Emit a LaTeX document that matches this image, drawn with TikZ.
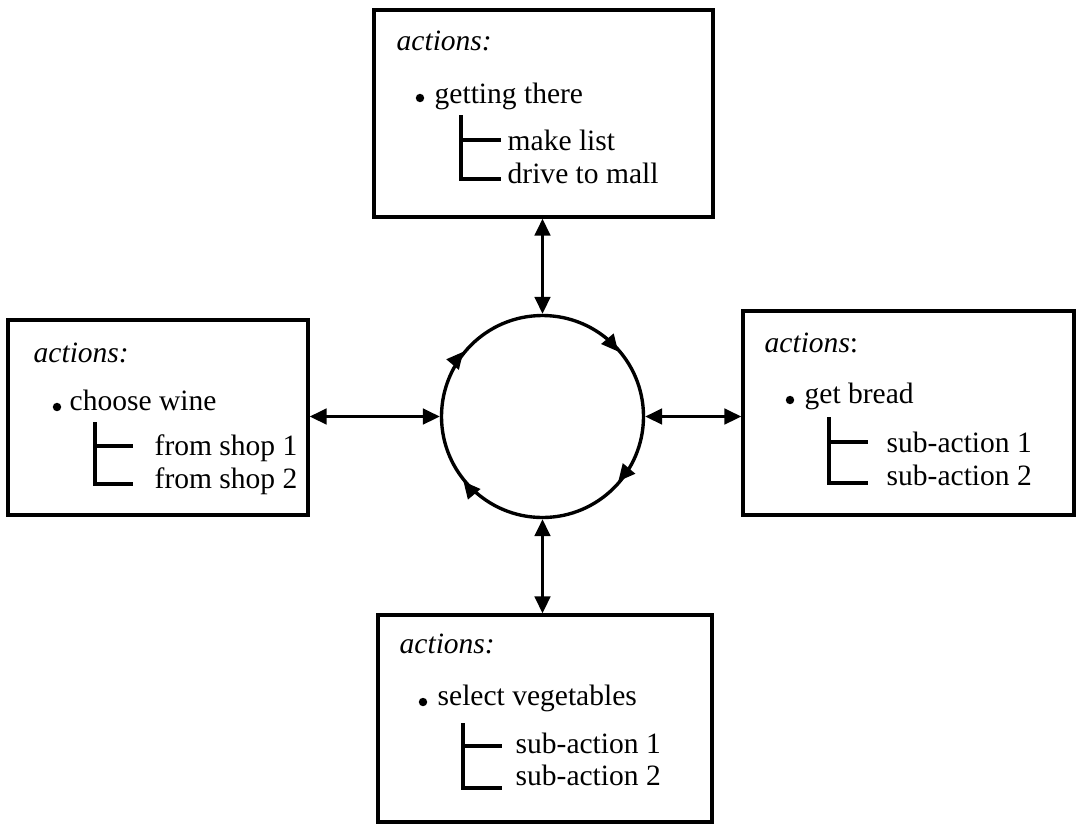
\documentclass[tikz,border=0pt]{standalone}
\usepackage{fontspec}
\setmainfont{Liberation Serif}
\usetikzlibrary{arrows.meta, positioning, decorations.markings}

\begin{document}
\begin{tikzpicture}[>={Triangle[length=12pt,width=11pt]}, line width=2.4pt,
  actbox/.style={draw, line width=2.4pt, inner sep=0pt},
  txt/.style={anchor=base west, inner sep=0pt, font=\fontsize{21}{25}\selectfont},
  dot/.style={circle, fill, inner sep=0pt, minimum size=6pt}]
\useasboundingbox (0,0) rectangle (26.9,-20.6);

% the four action boxes
\node[actbox, minimum width=8.475cm, minimum height=5.175cm] (boxtop) at (13.5875,-2.8375) {};
\node[actbox, minimum width=7.5cm, minimum height=4.875cm] (boxleft) at (3.95,-10.4375) {};
\node[actbox, minimum width=8.275cm, minimum height=5.1cm] (boxright) at (22.7125,-10.325) {};
\node[actbox, minimum width=8.35cm, minimum height=5.175cm] (boxbottom) at (13.625,-17.9625) {};

% central cycle
\node[draw, circle, line width=2.4pt, inner sep=0pt, minimum size=5.05cm] (hub) at (13.5625,-10.4125) {};
\path[postaction={decorate}, decoration={markings,
    mark=at position 0.111 with {\arrow{>}},
    mark=at position 0.389 with {\arrow{>}},
    mark=at position 0.611 with {\arrow{>}},
    mark=at position 0.889 with {\arrow{>}}}]
  (hub.west) arc[start angle=180, end angle=-180, radius=2.525cm];

% links box <-> cycle
\draw[<->] (boxtop.south -| hub) -- (hub.north);
\draw[<->] (boxleft.east |- hub) -- (hub.west);
\draw[<->] (hub.east) -- (hub.east -| boxright.west);
\draw[<->] (hub.south) -- (boxbottom.north -| hub);

% top box
\node[txt] (ttitle) at (9.875,-1.25) {\textit{actions:}};
\node[dot] at (10.5,-2.45) {};
\node[txt] (tmain) at (10.825,-2.575) {getting there};
\draw (11.525,-2.875) -- (11.525,-4.475) -- (12.525,-4.475);
\draw (11.525,-3.5) -- (12.525,-3.5);
\node[txt] (tsub1) at (12.65,-3.75) {make list};
\node[txt] (tsub2) at (12.65,-4.575) {drive to mall};

% left box
\node[txt] (ltitle) at (0.8,-9.05) {\textit{actions:}};
\node[dot] at (1.425,-10.175) {};
\node[txt] (lmain) at (1.7,-10.25) {choose wine};
\draw (2.375,-10.55) -- (2.375,-12.1) -- (3.325,-12.1);
\draw (2.375,-11.15) -- (3.325,-11.15);
\node[txt] (lsub1) at (3.825,-11.375) {from shop 1};
\node[txt] (lsub2) at (3.825,-12.2) {from shop 2};

% right box
\node[txt] (rtitle) at (19.075,-8.8) {\textit{actions}:};
\node[dot] at (19.75,-10.0) {};
\node[txt] (rmain) at (20.075,-10.075) {get bread};
\draw (20.725,-10.425) -- (20.725,-12.075) -- (21.7,-12.075);
\draw (20.725,-11.05) -- (21.7,-11.05);
\node[txt] (rsub1) at (22.125,-11.3) {sub-action 1};
\node[txt] (rsub2) at (22.125,-12.125) {sub-action 2};

% bottom box
\node[txt] (btitle) at (9.95,-16.325) {\textit{actions:}};
\node[dot] at (10.575,-17.55) {};
\node[txt] (bmain) at (10.9,-17.625) {select vegetables};
\draw (11.575,-18.075) -- (11.575,-19.7) -- (12.55,-19.7);
\draw (11.575,-18.65) -- (12.55,-18.65);
\node[txt] (bsub1) at (12.85,-18.825) {sub-action 1};
\node[txt] (bsub2) at (12.85,-19.625) {sub-action 2};
\end{tikzpicture}
\end{document}
